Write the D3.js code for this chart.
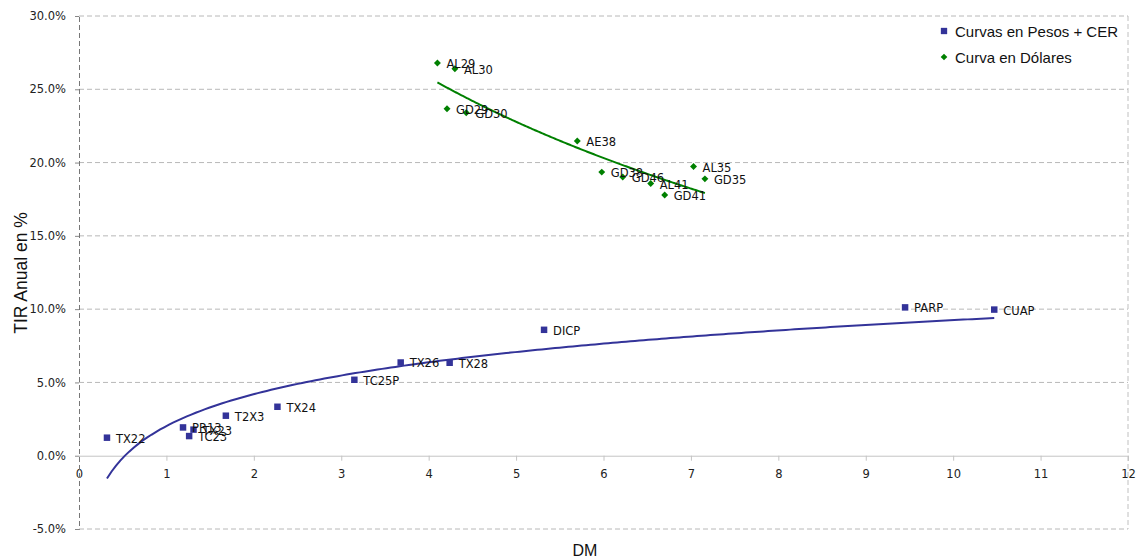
<!DOCTYPE html>
<html>
<head>
<meta charset="utf-8">
<script src="https://cdn.jsdelivr.net/npm/d3@7"></script>
<style>
  html, body { margin: 0; padding: 0; background: #fff; }
  svg { display: block; }
</style>
</head>
<body>
<svg id="chart" width="1138" height="560"></svg>
<script>
// ---- Data ----
const pesosNames = ["TX22", "PR13", "TX23", "TC23", "T2X3", "TX24", "TC25P", "TX26", "TX28", "DICP", "PARP", "CUAP"];
const pesosDM    = [0.32, 1.19, 1.31, 1.26, 1.68, 2.27, 3.15, 3.68, 4.24, 5.32, 9.45, 10.47];
const pesosTIR   = [1.23, 1.93, 1.78, 1.34, 2.73, 3.34, 5.18, 6.36, 6.34, 8.59, 10.12, 9.97];

const usdNames = ["AL29", "AL30", "GD29", "GD30", "AE38", "GD38", "GD46", "AL41", "GD41", "AL35", "GD35"];
const usdDM    = [4.10, 4.30, 4.21, 4.43, 5.70, 5.98, 6.22, 6.54, 6.70, 7.03, 7.16];
const usdTIR   = [26.79, 26.40, 23.67, 23.40, 21.47, 19.35, 19.02, 18.57, 17.79, 19.73, 18.89];

const xTicks = [0, 1, 2, 3, 4, 5, 6, 7, 8, 9, 10, 11, 12];
const yTicks = [-5, 0, 5, 10, 15, 20, 25, 30];
const legendLabels = ["Curvas en Pesos + CER", "Curva en Dólares"];

(function () {
// ---- Layout ----
const svg = d3.select("#chart");
const pL = 79, pR = 1128, pT = 16, pB = 529;
const x = d3.scaleLinear().domain([0, 12]).range([pL, pR]);
const y = d3.scaleLinear().domain([-5, 30]).range([pB, pT]);

const blue = "#333399", green = "#008000";
const tickFont = "'DejaVu Sans', sans-serif";

// Gridlines (dashed), except 0
svg.append("g").selectAll("line").data(yTicks.filter(d => d !== 0)).join("line")
  .attr("x1", pL).attr("x2", pR)
  .attr("y1", d => y(d)).attr("y2", d => y(d))
  .attr("stroke", "#b8b8b8").attr("stroke-width", 1).attr("stroke-dasharray", "5,3");

// Right border
svg.append("line").attr("x1", pR).attr("x2", pR).attr("y1", pT).attr("y2", pB)
  .attr("stroke", "#c0c0c0").attr("stroke-dasharray", "5,3");

// X axis at y = 0
const xAxis = d3.axisBottom(x).tickValues(xTicks).tickSize(5).tickFormat(d3.format("d"));
const gx = svg.append("g").attr("transform", `translate(0,${y(0)})`).call(xAxis);
gx.select(".domain").attr("stroke", "#c4c4c4");
gx.selectAll(".tick line").attr("stroke", "#c4c4c4");
gx.selectAll(".tick text").attr("font-family", tickFont).attr("font-size", 11.5)
  .attr("fill", "#222").attr("dy", 0).attr("y", 22);

// Y axis
const yAxis = d3.axisLeft(y).tickValues(yTicks).tickSize(4).tickPadding(9)
  .tickFormat(d => (d < 0 ? "-" : "") + Math.abs(d).toFixed(1) + "%");
const gy = svg.append("g").attr("transform", `translate(${pL},0)`).call(yAxis);
gy.select(".domain").attr("stroke", "#777").attr("stroke-dasharray", "5,3");
gy.selectAll(".tick line").attr("stroke", "#888");
gy.selectAll(".tick text").attr("font-family", tickFont).attr("font-size", 11.5).attr("fill", "#222");

// ---- Logarithmic trendlines (least squares on the data) ----
function logFit(xs, ys) {
  const L = xs.map(Math.log);
  const mL = d3.mean(L), mY = d3.mean(ys);
  let sxy = 0, sxx = 0;
  L.forEach((l, i) => { sxy += (l - mL) * (ys[i] - mY); sxx += (l - mL) * (l - mL); });
  const b = sxy / sxx, a = mY - b * mL;
  return v => a + b * Math.log(v);
}
function trend(xs, ys, color) {
  const f = logFit(xs, ys);
  const [x0, x1] = d3.extent(xs);
  const pts = d3.range(0, 201).map(i => { const v = x0 + (x1 - x0) * i / 200; return [v, f(v)]; });
  svg.append("path").datum(pts)
    .attr("d", d3.line().x(d => x(d[0])).y(d => y(d[1])))
    .attr("fill", "none").attr("stroke", color).attr("stroke-width", 2);
}
trend(pesosDM, pesosTIR, blue);
trend(usdDM, usdTIR, green);

// ---- Points ----
const sq = d3.symbol().type(d3.symbolSquare).size(42);
const dia = d3.symbol().type(d3.symbolSquare).size(24);

const pesos = pesosNames.map((n, i) => ({ n, x: pesosDM[i], y: pesosTIR[i] }));
const usd = usdNames.map((n, i) => ({ n, x: usdDM[i], y: usdTIR[i] }));

svg.append("g").selectAll("path").data(pesos).join("path")
  .attr("d", sq).attr("fill", blue)
  .attr("transform", d => `translate(${x(d.x)},${y(d.y)})`);
svg.append("g").selectAll("path").data(usd).join("path")
  .attr("d", dia).attr("fill", green)
  .attr("transform", d => `translate(${x(d.x)},${y(d.y)}) rotate(45)`);

// Labels
function labels(data) {
  svg.append("g").selectAll("text").data(data).join("text")
    .attr("x", d => x(d.x) + 9).attr("y", d => y(d.y) + 5)
    .attr("font-family", tickFont).attr("font-size", 11.5).attr("fill", "#111")
    .text(d => d.n);
}
labels(pesos);
labels(usd);

// ---- Legend ----
const lg = svg.append("g");
lg.append("path").attr("d", d3.symbol().type(d3.symbolSquare).size(40)).attr("fill", blue)
  .attr("transform", "translate(944,31)");
lg.append("path").attr("d", d3.symbol().type(d3.symbolSquare).size(22)).attr("fill", green)
  .attr("transform", "translate(944,57) rotate(45)");
lg.selectAll("text").data(legendLabels).join("text")
  .attr("x", 955).attr("y", (d, i) => 37 + i * 26)
  .attr("font-family", "'Liberation Sans', Arial, sans-serif").attr("font-size", 15).attr("fill", "#111")
  .text(d => d);

// ---- Axis titles ----
svg.append("text").attr("x", 585).attr("y", 556).attr("text-anchor", "middle")
  .attr("font-family", "'Liberation Sans', Arial, sans-serif").attr("font-size", 16).attr("fill", "#111")
  .text("DM");
svg.append("text").attr("transform", "translate(27,273) rotate(-90)").attr("text-anchor", "middle")
  .attr("font-family", "'Liberation Sans', Arial, sans-serif").attr("font-size", 17.5).attr("fill", "#111")
  .text("TIR Anual en %");
})();
</script>
</body>
</html>
